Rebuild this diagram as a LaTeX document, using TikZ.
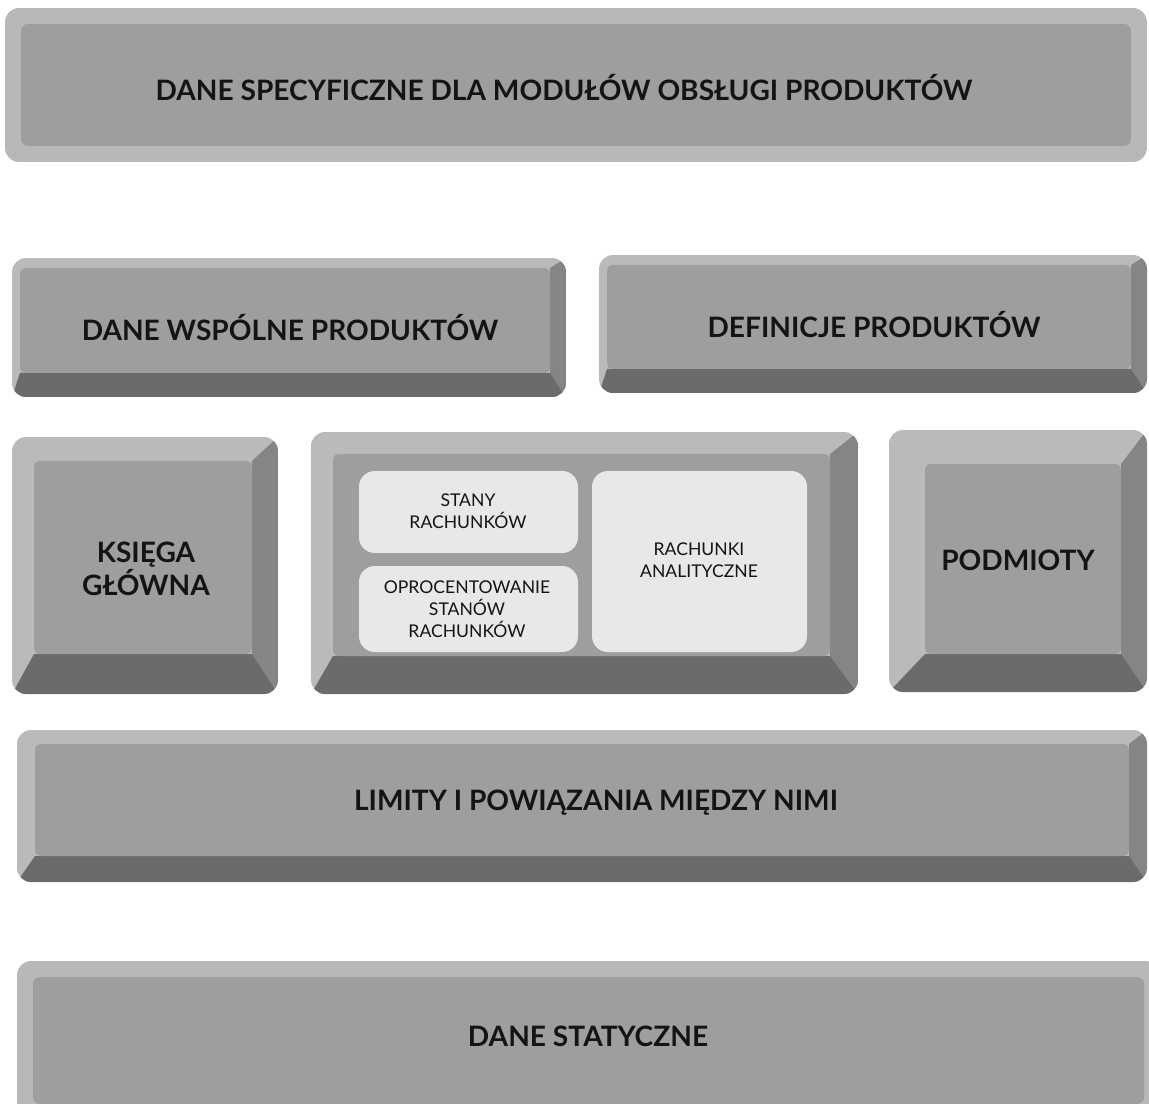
\documentclass[tikz,border=0pt]{standalone}
\usepackage{fontspec}
\setmainfont{Lato}
\usetikzlibrary{calc}
\tikzset{
  face/.style={fill=black!38},
  bevlt/.style={fill=black!27},
  bevrt/.style={fill=black!48},
  bevbt/.style={fill=black!58},
  flatrim/.style={fill=black!28},
  flatface/.style={fill=black!38},
  pane/.style={fill=black!9, rounded corners=9pt},
  lbl/.style={font=\bfseries\fontsize{16}{16}\selectfont, align=center, text=black!92, inner sep=0pt},
  smalllbl/.style={font=\fontsize{10}{12.5}\selectfont, align=center, text=black!92, inner sep=0pt},
}
% #1 x1, #2 y1, #3 x2, #4 y2, #5 left, #6 top, #7 right, #8 bottom
\newcommand\keycap[8]{%
  \begin{scope}
    \clip[rounded corners=8pt] (#1,#2) rectangle (#3,#4);
    \fill[bevlt] (#1,#2) rectangle (#3,#4);
    \fill[bevrt] (#3,#2) -- ({#3-#7},{#2+#6}) -- ({#3-#7},{#4-#8}) -- (#3,#4) -- cycle;
    \fill[bevbt] (#1,#4) -- ({#1+#5},{#4-#8}) -- ({#3-#7},{#4-#8}) -- (#3,#4) -- cycle;
    \fill[face, rounded corners=3pt] ({#1+#5},{#2+#6}) rectangle ({#3-#7},{#4-#8});
  \end{scope}}
\newcommand\flatcap[5]{%
  \begin{scope}
    \clip[rounded corners=8pt] (#1,#2) rectangle (#3,#4);
    \fill[flatrim] (#1,#2) rectangle (#3,#4);
    \fill[flatface, rounded corners=4pt] ({#1+#5},{#2+#5}) rectangle ({#3-#5},{#4-#5});
  \end{scope}}
\begin{document}
\begin{tikzpicture}[x=0.02cm, y=-0.02cm]
\useasboundingbox (0,0) rectangle (1149,1104);
\fill[white] (0,0) rectangle (1149,1104);

% top flat bar
\flatcap{5}{8}{1147}{162}{16}
\node[lbl] (specific) at (564,88) {DANE SPECYFICZNE DLA MODUŁÓW OBSŁUGI PRODUKTÓW};

% row 2
\keycap{12}{258}{566}{397}{8}{10}{16}{24}
\node[lbl] (common) at (290,328) {DANE WSPÓLNE PRODUKTÓW};
\keycap{599}{255}{1147}{393}{8}{10}{16}{24}
\node[lbl] (defs) at (874,325) {DEFINICJE PRODUKTÓW};

% row 3
\keycap{12}{437}{278}{694}{22}{24}{26}{40}
\node[lbl] (ledger) at (146,569) {KSIĘGA\\GŁÓWNA};

\keycap{311}{432}{858}{694}{22}{22}{28}{38}
\fill[pane] (359,471) rectangle (578,553);
\fill[pane] (359,566) rectangle (578,652);
\fill[pane] (592,471) rectangle (807,652);
\node[smalllbl] (states) at (468,511) {STANY\\RACHUNKÓW};
\node[smalllbl] (interest) at (467,609) {OPROCENTOWANIE\\STANÓW\\RACHUNKÓW};
\node[smalllbl] (analytic) at (699,560) {RACHUNKI\\ANALITYCZNE};

\keycap{889}{430}{1147}{692}{36}{34}{26}{38}
\node[lbl] (subjects) at (1018,560) {PODMIOTY};

% row 4
\keycap{17}{730}{1147}{882}{18}{14}{18}{26}
\node[lbl] (limits) at (596,803) {LIMITY I POWIĄZANIA MIĘDZY NIMI};

% bottom flat bar
\flatcap{17}{961}{1160}{1120}{16}
\node[lbl] (static) at (588,1036) {DANE STATYCZNE};
\end{tikzpicture}
\end{document}
